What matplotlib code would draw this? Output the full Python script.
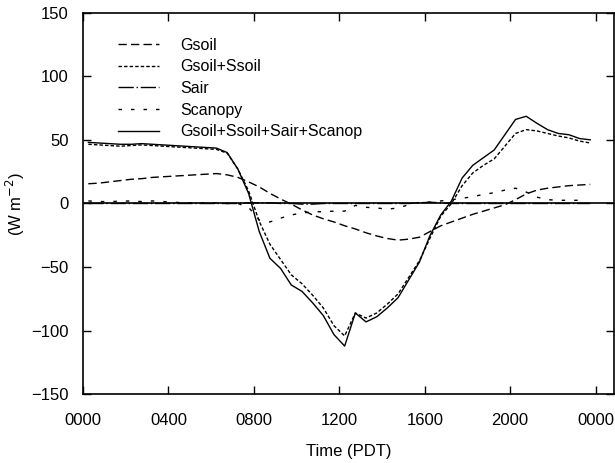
import numpy as np
import matplotlib
matplotlib.use("Agg")
from matplotlib import pyplot as plt

plt.rcParams['font.family'] = ['Liberation Sans', 'DejaVu Sans']

# half-hourly averages, centred on :15 and :45
hours = np.arange(48) * 0.5 + 0.25

gsoil = [15.5, 16, 17, 18, 19, 19.5, 20.5, 21, 21.5, 22, 22.5, 23, 23.5, 22.5, 20.5, 17,
         13, 8, 3.5, -0.5, -5, -9, -12, -14.5, -17.5, -20, -23, -25.5, -27.5, -28.8, -28, -26.5,
         -22, -17.5, -14.5, -11.5, -8.5, -6, -3.5, -1, 3, 7.5, 10.5, 12, 13, 14, 14.5, 15]

gsoil_ssoil = [46.5, 46, 45.5, 45, 45.5, 46, 45.5, 45, 44.5, 44, 43.5, 43, 42.5, 39.5, 27, 10,
               -14, -32, -44, -56, -63, -72, -82, -96, -104, -86, -90, -86, -79, -71, -58, -45,
               -27, -10, 0, 14, 24, 30, 35, 45, 55, 58, 57, 55, 53, 51.5, 49, 47.5]

sair = [0, 0, 0, 0, 0, 0, 0, 0, 0, 0, 0, 0, 0, 0, 0, 0.5,
        0.5, 0.5, 0, 0, -0.5, -0.5, 0, 0, 0, 0, 0, 0, 0, 0, 0, 0.5,
        1, 0.5, 0, 0, 0, 0, 0, 0, 0, 0, 0, 0, 0, 0, 0, 0]

scanopy = [2, 1.5, 1.5, 1.8, 2, 1.5, 2, 1.5, 1, 0.5, 0.5, 0.5, 0.5, 0, 0, -3,
           -13, -14.5, -11.5, -9, -7.5, -6.5, -6.5, -6, -6, -1.5, -3, -3.5, -4.5, -3.5, -1, 1,
           1, 2, 3, 4, 5.5, 7, 8.5, 10.5, 12, 9, 5, 3, 2.5, 2.5, 2.5]

total = [48, 47.5, 47, 46.5, 46.5, 47, 46.5, 46, 45.5, 45, 44.5, 44, 43.5, 40, 27, 8,
         -22, -43, -51, -64, -69, -78, -88, -103, -112, -86, -93, -89, -82, -74, -60, -46,
         -25, -9, 2, 20, 30, 36, 42, 54, 66, 68.5, 63, 58, 55, 54, 51, 50]

xticks = [0, 4, 8, 12, 16, 20, 24]
xticklabels = ['0000', '0400', '0800', '1200', '1600', '2000', '0000']
yticks = [-150, -100, -50, 0, 50, 100, 150]

fig = plt.figure(figsize=(6.15, 4.63), dpi=100)
ax = fig.add_axes([0.135, 0.148, 0.863, 0.825])

lw = 1.0
ax.axhline(0, color='black', lw=1.2)
ax.plot(hours, gsoil, color='black', lw=lw, dashes=(6, 3), label='Gsoil')
ax.plot(hours, gsoil_ssoil, color='black', lw=lw, dashes=(2.5, 1.5), label='Gsoil+Ssoil')
ax.plot(hours, sair, color='black', lw=lw, dashes=(11, 2, 1, 2), label='Sair')
ax.plot(hours[:len(scanopy)], scanopy, color='black', lw=lw, dashes=(2.5, 6.5), label='Scanopy')
ax.plot(hours, total, color='black', lw=lw, label='Gsoil+Ssoil+Sair+Scanop')

ax.set_xlim(0, 24.85)
ax.set_ylim(-150, 150)
ax.set_xticks(xticks)
ax.set_xticklabels(xticklabels)
ax.set_yticks(yticks)
ax.tick_params(direction='in', top=True, right=True, length=6, width=1,
               labelsize=12)
ax.tick_params(axis='x', pad=13)
ax.tick_params(axis='y', pad=10.5)
for s in ax.spines.values():
    s.set_linewidth(1.2)

ax.set_xlabel('Time (PDT)', fontsize=12, labelpad=12)
ax.set_ylabel('(W m$^{-2}$)', fontsize=12, labelpad=3)

ax.legend(loc='upper left', frameon=False, fontsize=11.5, handlelength=2.6,
          handletextpad=1.34, labelspacing=0.42, bbox_to_anchor=(0.053, 0.951),
          borderaxespad=0)

fig.savefig('out.png', dpi=100)
